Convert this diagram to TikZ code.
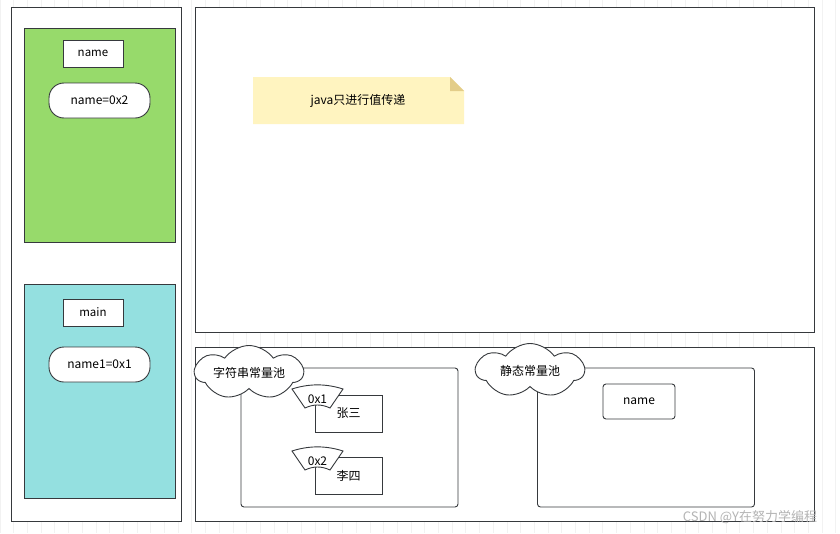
\documentclass[tikz,border=0pt]{standalone}
\usepackage{fontspec}
\setmainfont{Noto Sans CJK SC}
\usetikzlibrary{shapes.symbols, positioning}
\definecolor{stackgreen}{HTML}{97DA6B}
\definecolor{stackcyan}{HTML}{94E0E0}
\definecolor{notefill}{HTML}{FFF4C0}
\definecolor{notefold}{HTML}{E3CD89}
\definecolor{edge}{HTML}{36393D}
\definecolor{gridline}{HTML}{F2F2F2}
\definecolor{wmark}{HTML}{B4B4B4}

\begin{document}
\begin{tikzpicture}[
  x=1pt, y=-1pt,
  frame/.style={
    rectangle, draw=edge, line width=1pt, inner sep=0pt,
  },
  varbox/.style={
    rectangle, draw=edge, fill=white, line width=0.9pt, inner sep=0pt,
    minimum width=60pt, minimum height=27pt, font=\fontsize{11.5}{13}\selectfont,
  },
  pill/.style={
    rectangle, draw=edge, fill=white, line width=0.9pt, rounded corners=15pt,
    minimum width=101pt, minimum height=35pt, font=\fontsize{12}{14}\selectfont,
  },
  pool/.style={
    rectangle, draw=edge, fill=white, line width=0.9pt, rounded corners=3pt,
    minimum width=217pt, minimum height=139pt, inner sep=0pt,
  },
  bubble/.style={
    cloud, cloud puffs=7, cloud puff arc=110, cloud ignores aspect, draw=edge, fill=white,
    line width=0.9pt, minimum width=108pt, minimum height=54pt, inner sep=0pt,
    font=\fontsize{12}{14}\selectfont,
  },
  strbox/.style={
    rectangle, draw=edge, fill=white, line width=0.9pt, inner sep=0pt,
    minimum width=67pt, minimum height=37pt, font=\fontsize{12}{14}\selectfont,
  },
  tagtext/.style={font=\fontsize{12}{14}\selectfont, inner sep=0pt},
]
\useasboundingbox (0,0) rectangle (840,533);
% background grid
\fill[white] (0,0) rectangle (840,533);
\draw[gridline, line width=0.8pt] (0,0) grid[step=13.7] (840,533);

% stack frames
\node[frame, fill=white, minimum width=170pt, minimum height=514pt] (stack) at (96,264) {};
\node[frame, fill=stackgreen, minimum width=151pt, minimum height=214pt] (nameframe) at (99.5,135) {};
\node[frame, fill=stackcyan, minimum width=151pt, minimum height=214pt] (mainframe) at (99.5,391) {};
\node[varbox] (namelbl) at (93,53.5) {name};
\node[pill] (nameval) at (99.5,100.5) {name=0x2};
\node[varbox] (mainlbl) at (93,312.5) {main};
\node[pill] (mainval) at (99.5,364.5) {name1=0x1};

% heap
\node[frame, fill=white, minimum width=619pt, minimum height=325pt] (heap) at (504.5,169.5) {};
\fill[notefill] (253,77) -- (450,77) -- (464,91) -- (464,124) -- (253,124) -- cycle;
\fill[notefold] (450,77) -- (464,91) -- (450,91) -- cycle;
\node[font=\fontsize{12}{14}\selectfont] (note) at (358,101) {java只进行值传递};

% method area
\node[frame, fill=white, minimum width=619pt, minimum height=174pt] (area) at (504.5,434) {};
\node[pool] (strpool) at (349.5,437.5) {};
\node[pool] (statpool) at (646,437.5) {};
\node[bubble] (strcloud) at (249,372.5) {字符串常量池};
\node[bubble] (statcloud) at (530,370.5) {静态常量池};

\node[strbox] (zhang) at (348.5,413.5) {张三};
\node[strbox] (li) at (348.5,475.5) {李四};
\node[rectangle, draw=edge, fill=white, line width=0.9pt, rounded corners=3pt,
  minimum width=72pt, minimum height=35pt, font=\fontsize{12}{14}\selectfont] (staticname) at (639,401.5) {name};

% address tags
\foreach \tag/\ty/\addr in {tagone/398/0x1, tagtwo/460/0x2}{
  \coordinate (\tag) at (317.5,\ty);
  \draw[draw=edge, fill=white, line width=0.9pt]
    ([shift={(-25.5,-9)}]\tag) .. controls ([shift={(-8.5,-14.5)}]\tag) and ([shift={(8.5,-14.5)}]\tag) .. ([shift={(25.5,-9)}]\tag)
    -- ([shift={(12.5,10)}]\tag) .. controls ([shift={(4,6)}]\tag) and ([shift={(-4,6)}]\tag) .. ([shift={(-12.5,10)}]\tag)
    -- cycle;
  \node[tagtext] (\tag lbl) at ([yshift=-1]\tag) {\addr};
}

% watermark
\node[wmark, font=\fontsize{13}{15}\selectfont, inner sep=0pt] (mark) at (750,517) {CSDN @Y在努力学编程};
\end{tikzpicture}
\end{document}
